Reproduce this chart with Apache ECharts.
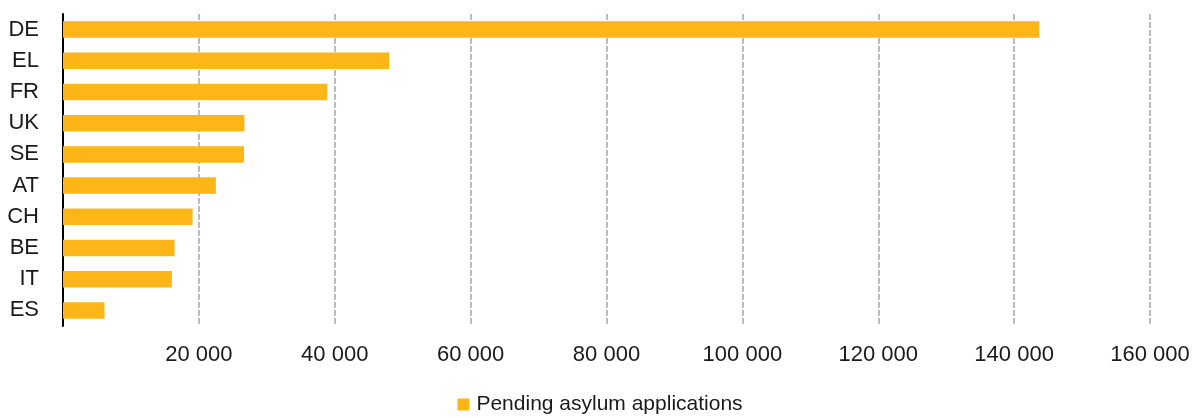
<!DOCTYPE html>
<html>
<head>
<meta charset="utf-8">
<script src="https://cdn.jsdelivr.net/npm/echarts@6/dist/echarts.min.js"></script>
<style>
html,body{margin:0;padding:0;background:#fff;}
#c{width:1200px;height:418px;}
</style>
</head>
<body>
<div id="c"></div>
<script>
const categories = ['DE','EL','FR','UK','SE','AT','CH','BE','IT','ES'];
const pending = [143700, 48000, 38900, 26700, 26650, 22500, 19070, 16420, 16030, 6110];
const seriesName = 'Pending asylum applications';
const xTicks = {min: 0, max: 160000, interval: 20000};

const chart = echarts.init(document.getElementById('c'), null, {renderer: 'canvas'});
chart.setOption({
  animation: false,
  textStyle: {fontFamily: 'Liberation Sans, Arial, sans-serif'},
  grid: {left: 63, right: 50, top: 14, bottom: 92, containLabel: false},
  legend: {
    top: 389,
    left: 'center',
    itemWidth: 12,
    itemHeight: 12,
    itemGap: 10,
    icon: 'rect',
    textStyle: {fontSize: 21, color: '#1a1a1a', fontFamily: 'Liberation Sans, Arial, sans-serif', padding: [0,0,0,2]},
    data: [seriesName]
  },
  xAxis: {
    type: 'value',
    min: xTicks.min, max: xTicks.max, interval: xTicks.interval,
    axisLine: {show: false},
    axisTick: {show: false},
    axisLabel: {
      showMinLabel: false,
      fontSize: 22, color: '#1a1a1a', margin: 18,
      formatter: v => String(v).replace(/\B(?=(\d{3})+(?!\d))/g, ' ')
    },
    splitLine: {show: true, lineStyle: {color: '#bdbdbd', width: 2, type: [6, 2]}}
  },
  yAxis: {
    type: 'category',
    data: categories,
    inverse: true,
    axisLine: {show: true, lineStyle: {color: '#000', width: 2}},
    axisTick: {show: false},
    axisLabel: {fontSize: 22, color: '#1a1a1a', margin: 24}
  },
  series: [{
    name: seriesName,
    type: 'bar',
    data: pending,
    barWidth: '53%',
    itemStyle: {color: '#FDB618'}
  }]
});
</script>
</body>
</html>
